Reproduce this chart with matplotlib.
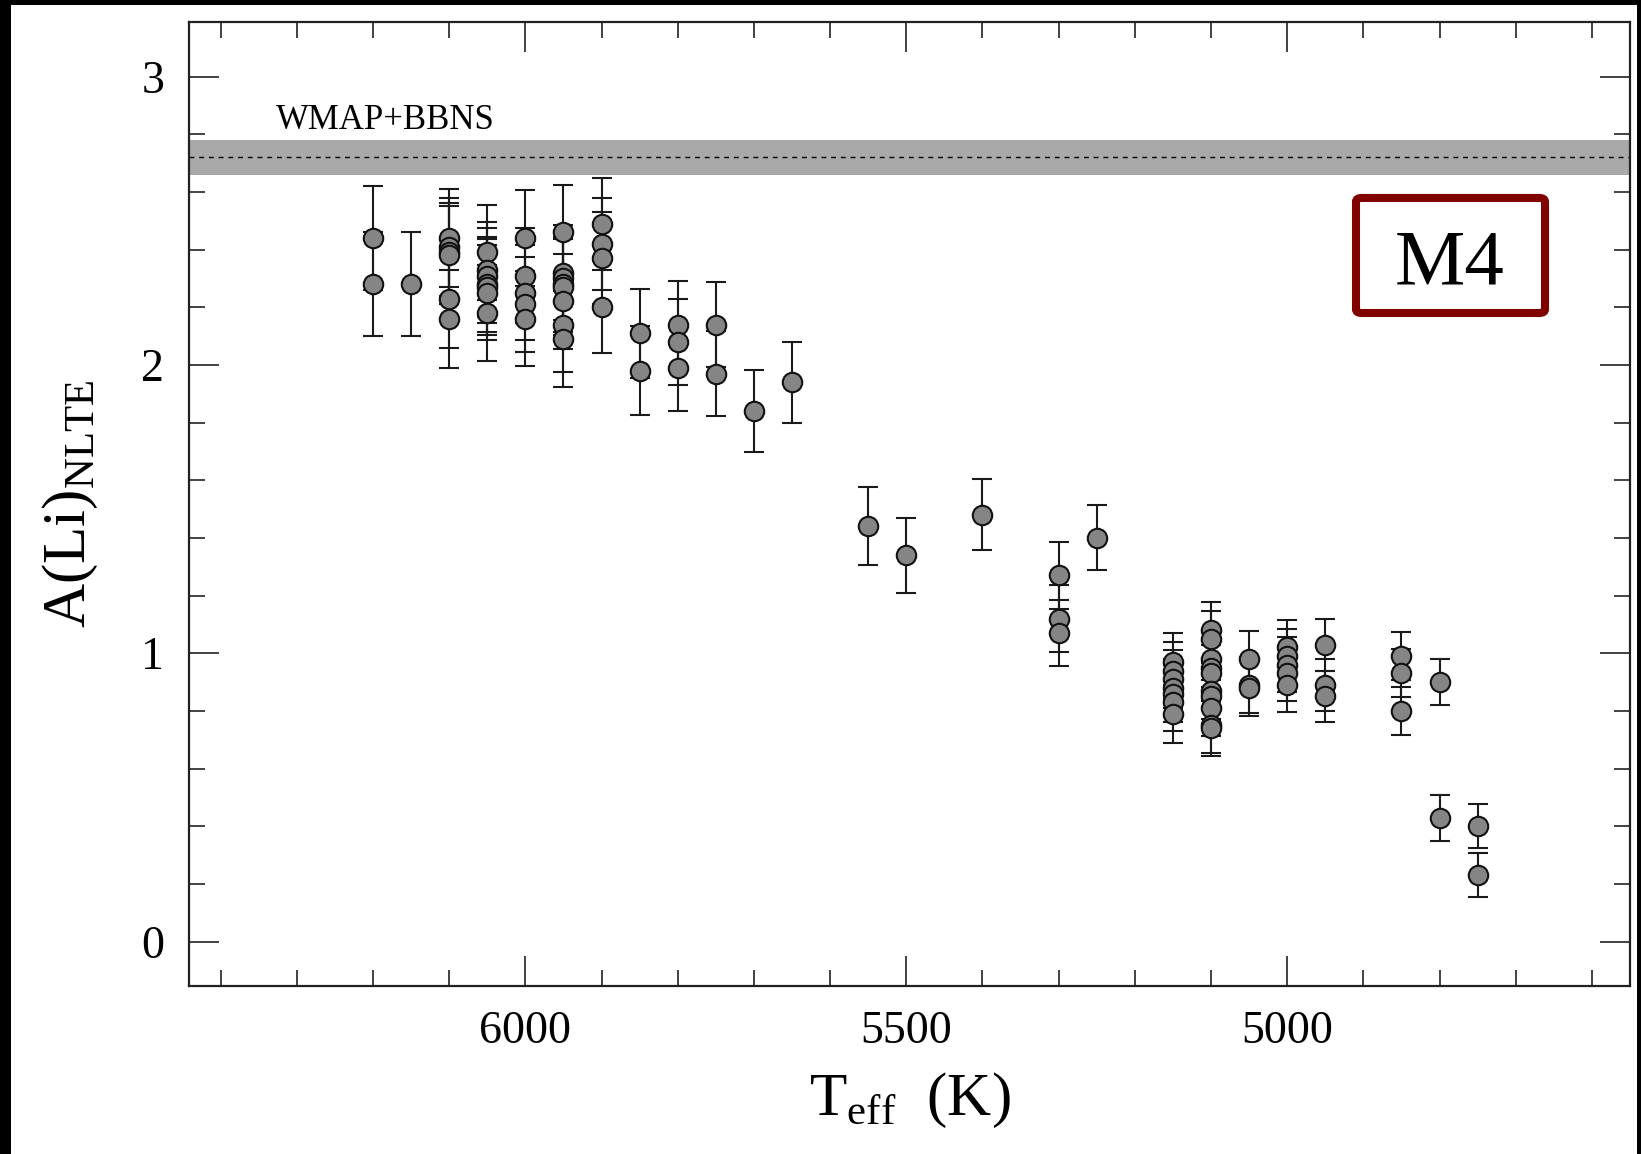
import matplotlib
matplotlib.use("Agg")
import matplotlib.pyplot as plt
from matplotlib.patches import Rectangle, FancyBboxPatch
from matplotlib.ticker import MultipleLocator, FormatStrFormatter

plt.rcParams['font.family'] = ['Liberation Serif', 'DejaVu Serif']
plt.rcParams['mathtext.fontset'] = 'custom'
plt.rcParams['mathtext.rm'] = 'Liberation Serif'

# Effective temperature of each M4 star (K)
teff = [6200, 6200,
        6150,
        6100, 6100, 6100, 6100, 6100, 6100,
        6050, 6050, 6050, 6050, 6050, 6050, 6050,
        6000, 6000, 6000, 6000, 6000,
        5950, 5950, 5950, 5950, 5950, 5950, 5950, 5950,
        5900, 5900, 5900, 5900,
        5850, 5850,
        5800, 5800, 5800,
        5750, 5750,
        5700,
        5650,
        5550,
        5500,
        5400,
        5300, 5300, 5300,
        5250,
        5150, 5150, 5150, 5150, 5150, 5150, 5150,
        5100, 5100, 5100, 5100, 5100, 5100, 5100, 5100, 5100, 5100,
        5050, 5050, 5050,
        5000, 5000, 5000, 5000, 5000,
        4950, 4950, 4950,
        4850, 4850, 4850,
        4800, 4800,
        4750, 4750]

# NLTE lithium abundance A(Li)
a_li = [2.44, 2.28,
        2.28,
        2.44, 2.41, 2.39, 2.38, 2.23, 2.16,
        2.39, 2.33, 2.31, 2.28, 2.27, 2.25, 2.18,
        2.44, 2.31, 2.25, 2.21, 2.16,
        2.46, 2.32, 2.30, 2.28, 2.27, 2.22, 2.14, 2.09,
        2.49, 2.42, 2.37, 2.20,
        2.11, 1.98,
        2.14, 2.08, 1.99,
        2.14, 1.97,
        1.84,
        1.94,
        1.44,
        1.34,
        1.48,
        1.27, 1.12, 1.07,
        1.40,
        0.97, 0.94, 0.91, 0.88, 0.86, 0.83, 0.79,
        1.08, 1.05, 0.98, 0.95, 0.93, 0.87, 0.85, 0.81, 0.75, 0.74,
        0.98, 0.89, 0.88,
        1.02, 0.99, 0.96, 0.93, 0.89,
        1.03, 0.89, 0.85,
        0.99, 0.93, 0.80,
        0.90, 0.43,
        0.40, 0.23]

# 1-sigma uncertainty on A(Li)
a_li_err = [0.18, 0.18,
            0.18,
            0.17, 0.17, 0.17, 0.17, 0.17, 0.17,
            0.165, 0.165, 0.165, 0.165, 0.165, 0.165, 0.165,
            0.165, 0.165, 0.165, 0.165, 0.165,
            0.165, 0.165, 0.165, 0.165, 0.165, 0.165, 0.165, 0.165,
            0.16, 0.16, 0.16, 0.16,
            0.155, 0.155,
            0.15, 0.15, 0.15,
            0.147, 0.147,
            0.142,
            0.14,
            0.135,
            0.13,
            0.123,
            0.115, 0.115, 0.115,
            0.113,
            0.10, 0.10, 0.10, 0.10, 0.10, 0.10, 0.10,
            0.097, 0.097, 0.097, 0.097, 0.097, 0.097, 0.097, 0.097, 0.097, 0.097,
            0.097, 0.097, 0.097,
            0.095, 0.095, 0.095, 0.095, 0.095,
            0.09, 0.09, 0.09,
            0.083, 0.083, 0.083,
            0.08, 0.08,
            0.076, 0.076]

# Primordial lithium from WMAP + standard BBN
wmap_li = 2.72
wmap_li_err = 0.06

fig = plt.figure(figsize=(16.41, 11.54), dpi=100)
fig.patch.set_facecolor('black')
fig.add_artist(Rectangle((11 / 1641, 0), (1637 - 11) / 1641, (1154 - 5) / 1154,
                         transform=fig.transFigure, facecolor='white',
                         edgecolor='none', zorder=-10))

ax = fig.add_axes([0.1154, 0.1456, 0.8779, 0.8355])
ax.set_xlim(6441, 4550)
ax.set_ylim(-0.154, 3.19)

# WMAP+BBNS band
ax.axhspan(wmap_li - wmap_li_err, wmap_li + wmap_li_err, color='#a9a9a9', lw=0, zorder=1)
ax.axhline(wmap_li, color='black', lw=1.0, dashes=(3.5, 3.5), zorder=1.5)
ax.text(6327, 2.818, 'WMAP+BBNS', fontsize=25, ha='left', va='baseline')

for i, (t, a, e) in enumerate(zip(teff, a_li, a_li_err)):
    ax.errorbar(t, a, yerr=e, fmt='o', ms=14, mfc='#858585', mec='#111111',
                mew=1.5, ecolor='#1a1a1a', elinewidth=1.5, capsize=7.5,
                capthick=1.5, zorder=3 + i * 0.01)

ax.xaxis.set_major_locator(MultipleLocator(500))
ax.xaxis.set_minor_locator(MultipleLocator(100))
ax.yaxis.set_major_locator(MultipleLocator(1))
ax.yaxis.set_minor_locator(MultipleLocator(0.2))
ax.xaxis.set_major_formatter(FormatStrFormatter('%d'))
ax.yaxis.set_major_formatter(FormatStrFormatter('%d'))

ax.tick_params(which='both', direction='in', top=True, right=True,
               width=1.2, color='#222222', labelsize=33)
ax.tick_params(which='major', length=21.5)
ax.tick_params(which='minor', length=11.5)
ax.tick_params(axis='x', pad=18)
ax.tick_params(axis='y', pad=18)
for s in ax.spines.values():
    s.set_linewidth(1.6)
    s.set_color('#222222')

ax.set_xlabel(r'T$_{\mathregular{eff}}$  (K)', fontsize=44)
ax.set_ylabel(r'A(Li)$_{\mathregular{NLTE}}$', fontsize=44)
ax.xaxis.set_label_coords(0.5, -0.088)
ax.yaxis.set_label_coords(-0.062, 0.5)

# Cluster name box
box = FancyBboxPatch((0.8098, 0.698), 0.1312, 0.1193,
                     boxstyle='round,pad=0,rounding_size=0.004',
                     transform=ax.transAxes, facecolor='white',
                     edgecolor='#800000', lw=5.8, zorder=10)
ax.add_patch(box)
ax.text(0.8751, 0.7291, 'M4', transform=ax.transAxes, fontsize=57,
        ha='center', va='baseline', zorder=11)

fig.savefig('out.png', dpi=100, facecolor=fig.get_facecolor())
